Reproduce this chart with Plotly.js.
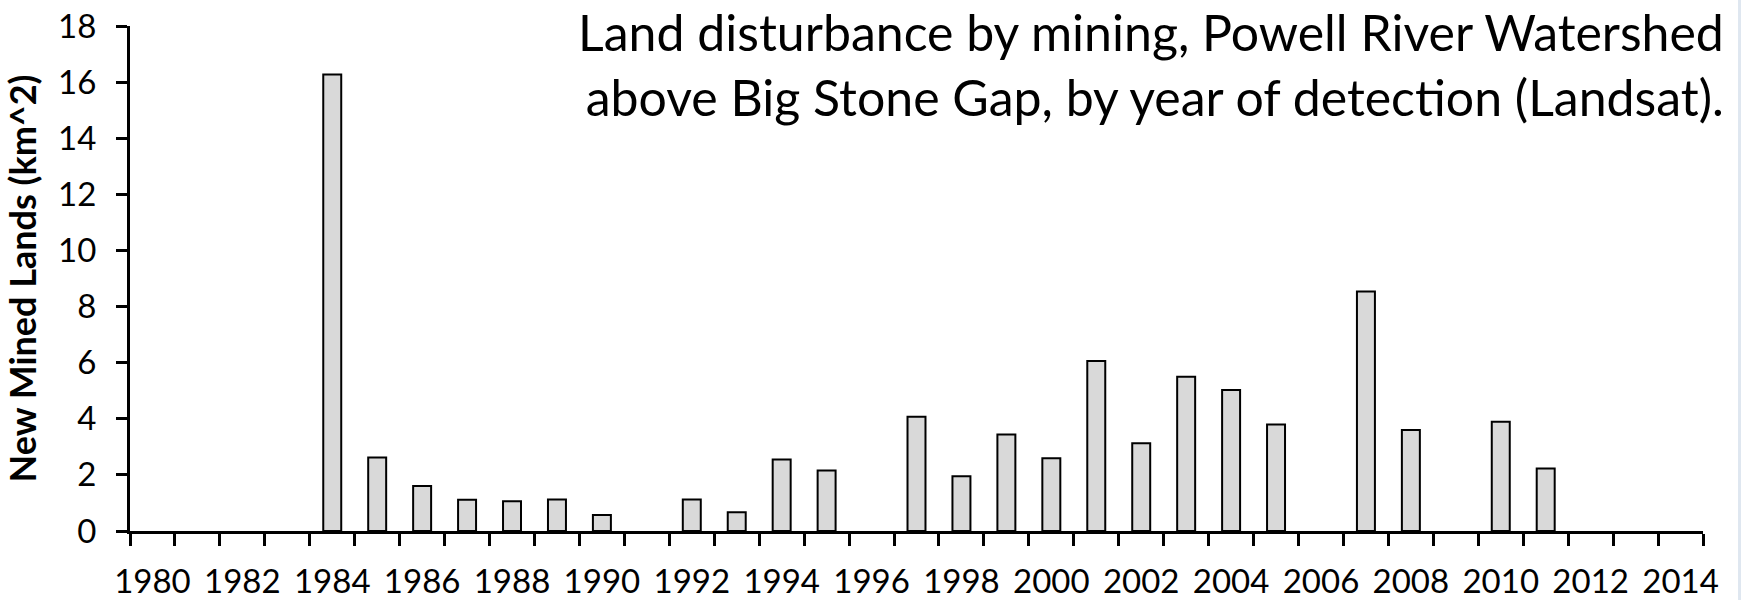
<!DOCTYPE html>
<html>
<head>
<meta charset="utf-8">
<script src="https://cdn.plot.ly/plotly-3.0.1.min.js"></script>
<style>html,body{margin:0;padding:0;background:#fff;}#chart{width:1741px;height:600px;}</style>
</head>
<body>
<div id="chart"></div>
<script>
// Data
const years = [1984, 1985, 1986, 1987, 1988, 1989, 1990, 1992, 1993, 1994, 1995, 1997, 1998, 1999, 2000, 2001, 2002, 2003, 2004, 2005, 2007, 2008, 2010, 2011];
const minedKm2 = [16.27, 2.62, 1.60, 1.11, 1.06, 1.12, 0.57, 1.12, 0.67, 2.55, 2.16, 4.07, 1.95, 3.44, 2.59, 6.06, 3.13, 5.50, 5.03, 3.80, 8.54, 3.60, 3.89, 2.23];
const axisYears = []; for (let y = 1980; y <= 2014; y++) axisYears.push(y);
const labelYears = axisYears.filter(y => y % 2 === 0);
const boundaries = axisYears.map(y => y - 0.5).concat([2014.5]);
const titleLines = ["Land disturbance by mining, Powell River Watershed", "above Big Stone Gap, by year of detection (Landsat)."];
const yTitle = "New Mined Lands (km^2)";

const W = 1741, H = 600, L = 130, R = 38, T = 26, B = 69;
const pw = W - L - R, ph = H - T - B;

const trace = {
  type: 'bar', x: years, y: minedKm2, width: 0.4,
  marker: { color: '#d9d9d9', line: { color: '#000', width: 2 } },
  hoverinfo: 'x+y'
};

const layout = {
  width: W, height: H,
  margin: { l: L, r: R, t: T, b: B, pad: 0 },
  paper_bgcolor: '#fff', plot_bgcolor: '#fff',
  showlegend: false,
  font: { family: 'Lato, "Open Sans", sans-serif', color: '#000' },
  xaxis: {
    range: [1979.5, 2014.5], tickmode: 'array', tickvals: labelYears, ticktext: labelYears.map(String),
    ticks: '', showgrid: false, zeroline: false, showline: true, linecolor: '#000', linewidth: 3,
    tickfont: { size: 33, family: 'Lato', color: '#000' }, ticklabelstandoff: 19,
    minor: { tickmode: 'array', tickvals: boundaries, ticks: 'outside', ticklen: 12, tickwidth: 3, tickcolor: '#000', showgrid: false },
    fixedrange: true
  },
  yaxis: {
    range: [0, 18], dtick: 2, tick0: 0, ticks: 'outside', ticklen: 11, tickwidth: 3, tickcolor: '#000',
    showgrid: false, zeroline: false, showline: true, linecolor: '#000', linewidth: 3,
    tickfont: { size: 33, family: 'Lato', color: '#000' }, ticklabelstandoff: 13,
    title: { text: yTitle, font: { size: 36, family: 'Lato', weight: 'bold', color: '#000' }, standoff: 16 },
    fixedrange: true
  },
  annotations: [{
    xref: 'paper', yref: 'paper', x: (1726 - L) / pw, y: (T + ph) / ph,
    xanchor: 'right', yanchor: 'top', align: 'right', showarrow: false,
    text: titleLines.join('<br>'),
    font: { size: 50, family: 'Lato', color: '#000' }
  }],
  shapes: [{
    type: 'rect', xref: 'paper', yref: 'paper', layer: 'below',
    x0: (1738 - L) / pw, x1: (W - L) / pw, y0: -B / ph, y1: (ph + T) / ph,
    fillcolor: '#dfe7f0', line: { width: 0 }
  }]
};

Plotly.newPlot('chart', [trace], layout, { displayModeBar: false, staticPlot: true });
</script>
</body>
</html>
